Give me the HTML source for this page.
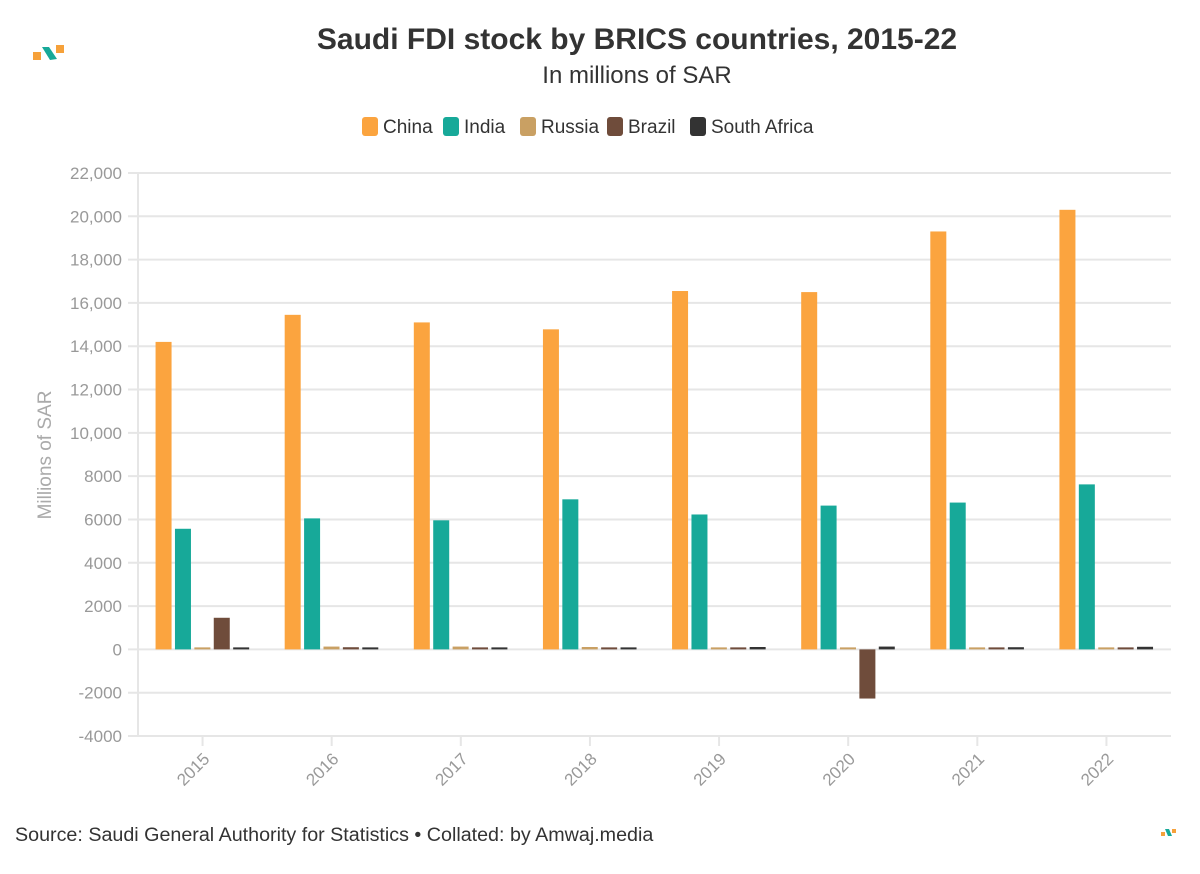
<!DOCTYPE html>
<html><head><meta charset="utf-8"><style>
body{margin:0;background:#fff;font-family:"Liberation Sans",sans-serif;}
svg text{font-family:"Liberation Sans",sans-serif;}
</style></head><body>
<svg id="chart" width="1200" height="869">
<g>
<rect x="33" y="52" width="8" height="8" fill="#f6a13a"/><rect x="56" y="45" width="8" height="8" fill="#f6a13a"/>
<path d="M42 47 L49 47 L57 59 L50 60 Z" fill="#17a999"/>
</g>
<text x="637" y="49" text-anchor="middle" font-size="30" font-weight="bold" fill="#333">Saudi FDI stock by BRICS countries, 2015-22</text>
<text x="637" y="83" text-anchor="middle" font-size="24" fill="#333">In millions of SAR</text>
<g id="legend"></g>
<g id="grid"></g>
<g id="bars"></g>
<text transform="translate(51,455) rotate(-90)" text-anchor="middle" font-size="19" fill="#aaa">Millions of SAR</text>
<text x="15" y="841" font-size="19.7" fill="#333">Source: Saudi General Authority for Statistics • Collated: by Amwaj.media</text>
<g>
<rect x="1161" y="832" width="4" height="4" fill="#f6a13a"/><rect x="1172" y="829" width="4" height="4" fill="#f6a13a"/>
<path d="M1165 829 L1169 829 L1172 836 L1168 836 Z" fill="#17a999"/>
</g>
</svg>
<script>
const years=["2015","2016","2017","2018","2019","2020","2021","2022"];
const china=[14200,15450,15100,14780,16550,16500,19300,20300];
const india=[5570,6050,5960,6930,6230,6640,6780,7620];
const russia=[30,130,130,110,90,80,90,90];
const brazil=[1460,100,60,60,50,-2270,60,50];
const southAfrica=[20,90,60,70,110,130,100,120];
const seriesNames=["China","India","Russia","Brazil","South Africa"];
const yTicks=[-4000,-2000,0,2000,4000,6000,8000,10000,12000,14000,16000,18000,20000,22000];
const yTickLabels=["-4000","-2000","0","2000","4000","6000","8000","10,000","12,000","14,000","16,000","18,000","20,000","22,000"];

const colors=["#fba43f","#17a999","#c9a063","#6f4c3b","#333333"];
const series=[china,india,russia,brazil,southAfrica];
const NS="http://www.w3.org/2000/svg";
const L=138,R=1171,T=173,B=736,yMin=-4000,yMax=22000;
const y=v=>B-(v-yMin)/(yMax-yMin)*(B-T);
const band=(R-L)/years.length;
const xc=i=>L+band*(i+0.5);
function mk(tag,at,parent){const e=document.createElementNS(NS,tag);for(const k in at)e.setAttribute(k,at[k]);parent.appendChild(e);return e;}
const grid=document.getElementById('grid'),bars=document.getElementById('bars'),leg=document.getElementById('legend');
yTicks.forEach((t,i)=>{
 const ln=mk('line',{x1:L-10,x2:R,y1:y(t),y2:y(t),stroke:'#e6e6e6','stroke-width':2},grid);
 
 
 const tx=mk('text',{x:L-16,y:y(t)+6,'text-anchor':'end','font-size':17,fill:'#999'},grid);
 tx.textContent=yTickLabels[i];
 
 
});
const ax=mk('line',{x1:L,x2:L,y1:T,y2:B,stroke:'#e6e6e6','stroke-width':2},grid);


years.forEach((yr,i)=>{
 const tk=mk('line',{x1:xc(i),x2:xc(i),y1:B,y2:B+10,stroke:'#e6e6e6','stroke-width':2},grid);
 
 
 const tx=mk('text',{transform:`translate(${xc(i)+8},${B+24}) rotate(-45)`,'text-anchor':'end','font-size':17,fill:'#999'},grid);
 tx.textContent=yr;
 
 
 series.forEach((s,j)=>{
  const v=s[i];const x=xc(i)-47+j*19.4;
  const top=Math.min(y(v),y(0)),h=Math.max(Math.abs(y(v)-y(0)),2);
  const r=mk('rect',{x:x,y:v>=0?y(0)-h:top,width:16,height:h,fill:colors[j]},bars);
  
  
 });
});
let lx=362;
const widths=[81,77,87,83,120];
seriesNames.forEach((n,j)=>{
 const r=mk('rect',{x:lx,y:117,width:16,height:19,rx:3,fill:colors[j]},leg);
 
 
 const t=mk('text',{x:lx+21,y:133,'font-size':19,fill:'#333'},leg);
 t.textContent=n;
 
 
 lx+=widths[j];
});
</script>
</body></html>
